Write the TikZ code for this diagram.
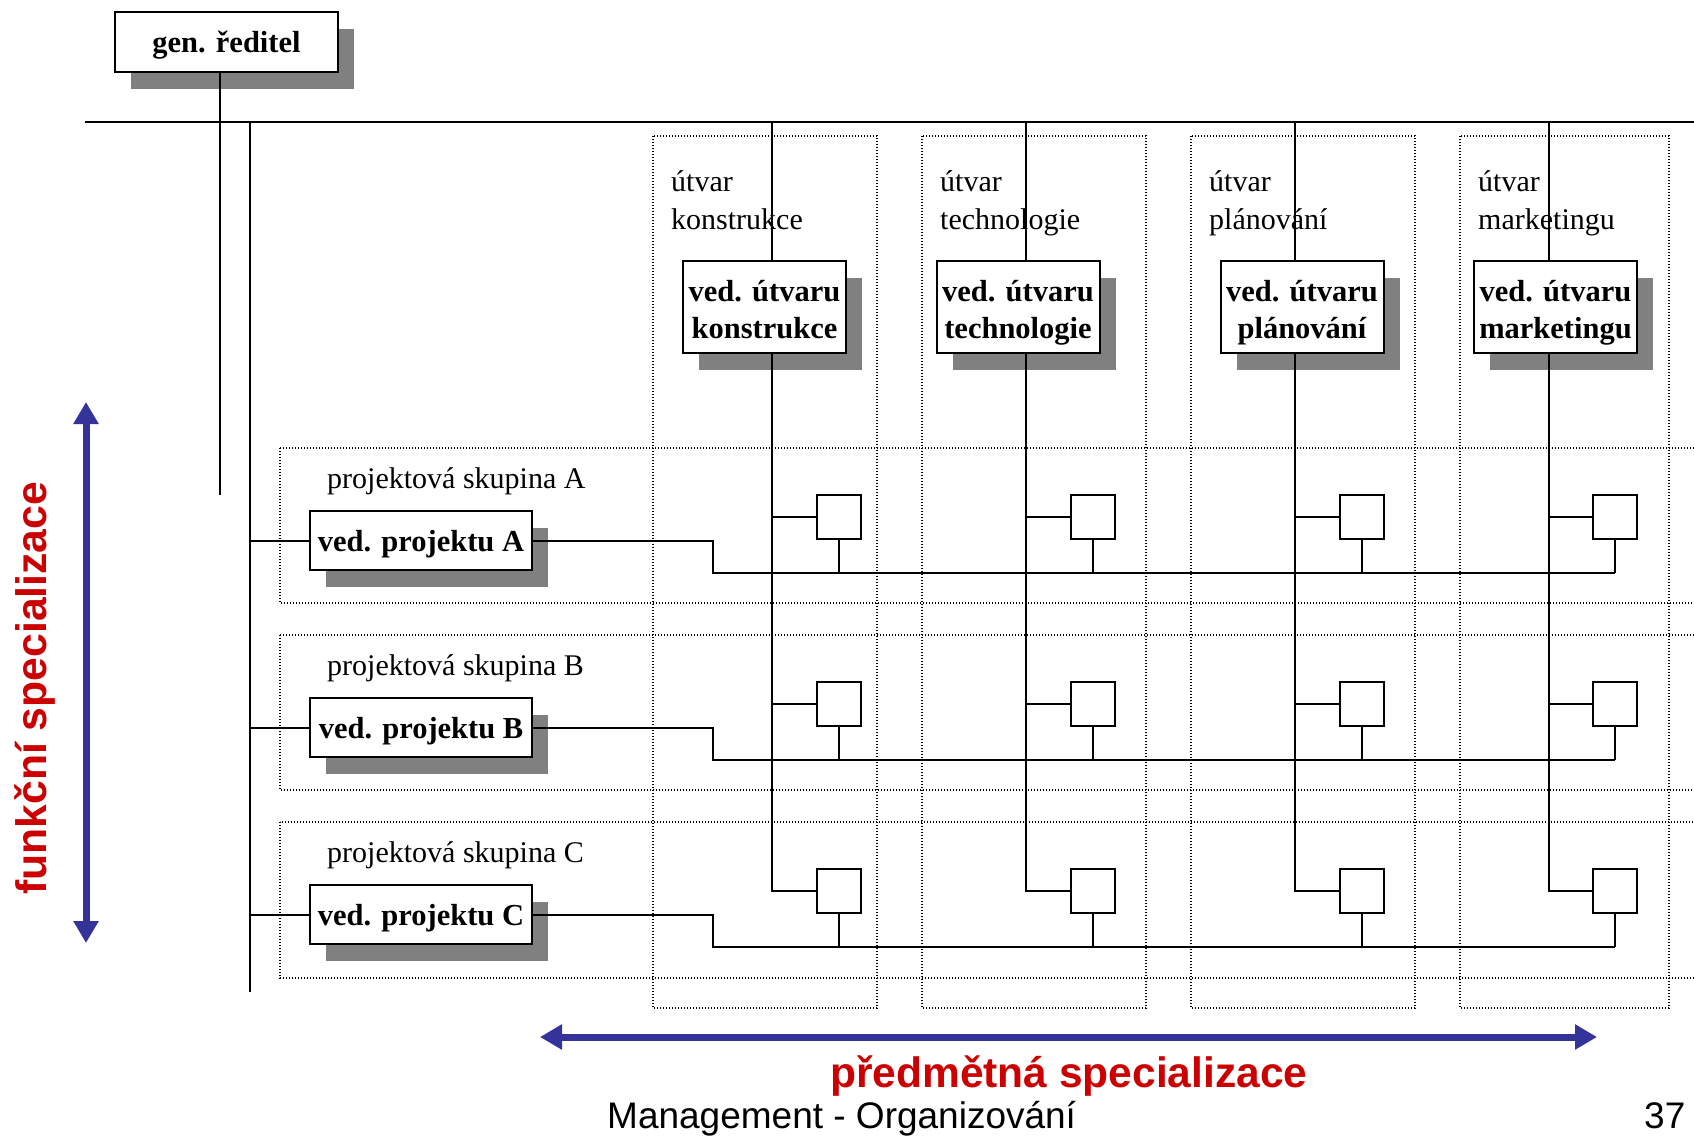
\documentclass[tikz,border=0pt]{standalone}
\usepackage{fontspec}
\setmainfont{Liberation Serif}
\newfontfamily\arialfont{Liberation Sans}
\usetikzlibrary{shadows,arrows.meta}
\definecolor{shgray}{HTML}{808080}
\definecolor{arrblue}{HTML}{333399}
\definecolor{txtred}{HTML}{CC0000}
\begin{document}
\begin{tikzpicture}[x=1pt,y=-1pt,
  shbox/.style={draw=black, line width=2pt, fill=white, align=center, inner sep=0pt,
    font=\bfseries\fontsize{30}{37}\selectfont,
    general shadow={shadow xshift=16pt, shadow yshift=-17pt, fill=shgray}},
  boxtext/.style={label={[inner sep=0pt, align=center, text depth=0pt, font=\bfseries\fontsize{30.5}{37}\selectfont]center:{#1}}},
  mgrtext/.style={label={[inner sep=0pt, align=center, text depth=0pt, font=\bfseries\fontsize{30.5}{37}\selectfont, yshift=-3pt]center:{#1}}},
  mgr/.style={shbox, minimum width=163pt, minimum height=92pt},
  proj/.style={shbox, minimum width=222pt, minimum height=59pt},
  smallbox/.style={draw=black, line width=2pt, fill=white, minimum size=44pt, inner sep=0pt},
  dotbox/.style={draw=black, line width=1.4pt, dash pattern=on 1.4pt off 1.6pt},
  conn/.style={draw=black, line width=2pt},
  lbl/.style={anchor=west, align=left, inner sep=0pt, text depth=0pt, font=\fontsize{30}{38}\selectfont},
  bigarrow/.style={draw=arrblue, line width=7pt, {Triangle[width=24pt,length=22pt]}-{Triangle[width=24pt,length=22pt]}}
]
\useasboundingbox[fill=white] (0,0) rectangle (1694,1135);

% dotted column frames
\draw[dotbox] (653,136) rectangle (877,1008);
\draw[dotbox] (922,136) rectangle (1146,1008);
\draw[dotbox] (1191,136) rectangle (1415,1008);
\draw[dotbox] (1460,136) rectangle (1669,1008);
% dotted row frames
\draw[dotbox] (280,448) rectangle (1720,603);
\draw[dotbox] (280,635) rectangle (1720,790);
\draw[dotbox] (280,822) rectangle (1720,978);

% column labels
\node[lbl] (l1) at (671,200) {útvar\\konstrukce};
\node[lbl] (l2) at (940,200) {útvar\\technologie};
\node[lbl] (l3) at (1209,200) {útvar\\plánování};
\node[lbl] (l4) at (1478,200) {útvar\\marketingu};

% row labels
\node[lbl] (rA) at (327,478) {projektová skupina A};
\node[lbl] (rB) at (327,665) {projektová skupina B};
\node[lbl] (rC) at (327,852) {projektová skupina C};

% boxes
\node[shbox, minimum width=223pt, minimum height=60pt, boxtext={gen. ředitel}] (gen) at (226.5,42) {};
\node[mgr, mgrtext={ved. útvaru\\konstrukce}] (m1) at (764.5,306.5) {};
\node[mgr, mgrtext={ved. útvaru\\technologie}] (m2) at (1018,306.5) {};
\node[mgr, mgrtext={ved. útvaru\\plánování}] (m3) at (1302,306.5) {};
\node[mgr, mgrtext={ved. útvaru\\marketingu}] (m4) at (1555.5,306.5) {};
\node[proj, boxtext={ved. projektu A}] (pA) at (421,540.5) {};
\node[proj, boxtext={ved. projektu B}] (pB) at (421,727.5) {};
\node[proj, boxtext={ved. projektu C}] (pC) at (421,914.5) {};

% small boxes
\foreach \r/\yy in {A/517,B/704,C/891}{
  \node[smallbox] (s\r1) at (839,\yy) {};
  \node[smallbox] (s\r2) at (1092.5,\yy) {};
  \node[smallbox] (s\r3) at (1361.5,\yy) {};
  \node[smallbox] (s\r4) at (1615,\yy) {};
}

% main lines
\coordinate (hl) at (85,122);
\coordinate (hr) at (1700,122);
\draw[conn] (hl) -- (hr);
\coordinate (g1) at (220,495);
\draw[conn] (gen.south -| g1) -- (g1);
\coordinate (v0t) at (250,122);
\coordinate (v0b) at (250,992);
\draw[conn] (v0t) -- (v0b);

% column lines
\foreach \i/\xx in {1/772,2/1026,3/1295,4/1549}{
  \coordinate (c\i) at (\xx,122);
  \draw[conn] (c\i) -- (c\i |- m\i.north);
  \draw[conn] (c\i |- m\i.south) -- (c\i |- sC\i.west) -- (sC\i.west);
  \draw[conn] (c\i |- sA\i.west) -- (sA\i.west);
  \draw[conn] (c\i |- sB\i.west) -- (sB\i.west);
}

% row lines
\foreach \r/\yl in {A/573,B/760,C/947}{
  \draw[conn] (v0t |- p\r.west) -- (p\r.west);
  \coordinate (k\r) at (713,\yl);
  \draw[conn] (p\r.east) -- (k\r |- p\r.east) -- (k\r) -- (s\r4.south |- k\r);
  \foreach \i in {1,2,3,4}{
    \draw[conn] (s\r\i.south) -- (s\r\i.south |- k\r);
  }
}

% arrows
\coordinate (va) at (86,402);
\coordinate (vb) at (86,943);
\draw[bigarrow] (va) -- (vb);
\coordinate (ha) at (540,1037);
\coordinate (hb) at (1597,1037);
\draw[bigarrow] (ha) -- (hb);

% texts
\node[rotate=90, anchor=base west, inner sep=0pt, text=txtred, font=\arialfont\bfseries\fontsize{42.7}{43}\selectfont] (fs) at (46,895) {funkční specializace};
\node[anchor=base west, inner sep=0pt, text=txtred, font=\arialfont\bfseries\fontsize{42.5}{42.5}\selectfont] (ps) at (830,1087) {předmětná specializace};
\node[anchor=base west, inner sep=0pt, font=\arialfont\fontsize{37}{37}\selectfont] (mg) at (607,1128) {Management - Organizování};
\node[anchor=base west, inner sep=0pt, font=\arialfont\fontsize{37}{37}\selectfont] (pg) at (1644,1128) {37};
\end{tikzpicture}
\end{document}
